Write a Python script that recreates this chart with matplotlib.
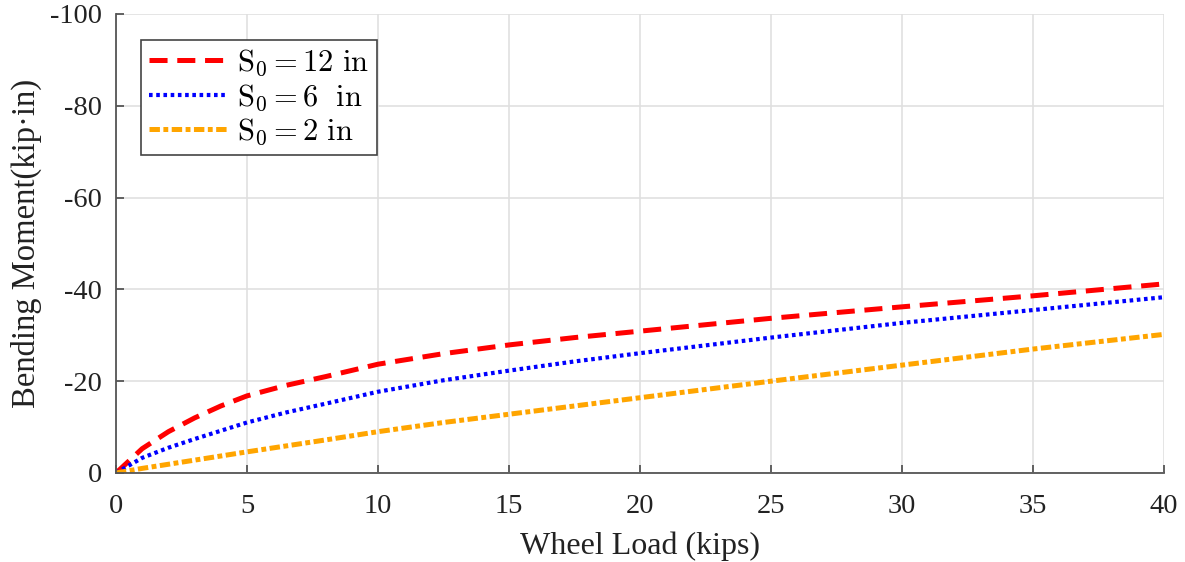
import matplotlib
matplotlib.use("Agg")
import matplotlib.pyplot as plt

plt.rcParams['font.family'] = ['Liberation Serif', 'DejaVu Serif']
plt.rcParams['mathtext.fontset'] = 'cm'
plt.rcParams['axes.unicode_minus'] = False
plt.rcParams['lines.scale_dashes'] = False

# Wheel load (kips) and bending moment (kip·in) for three S0 values
wheel_load = [0, 1, 2, 3, 4, 5, 6.5, 8, 10, 12.5, 15, 17.5, 20, 25, 30, 35, 40]
moment_s12 = [0, -5.3, -9.0, -12.0, -14.6, -16.8, -19.1, -21.0, -23.7,
              -26.0, -27.9, -29.5, -30.9, -33.7, -36.2, -38.6, -41.2]
moment_s6 = [0, -3.3, -5.5, -7.4, -9.2, -11.0, -13.2, -15.1, -17.7,
             -20.2, -22.3, -24.3, -26.1, -29.5, -32.7, -35.5, -38.3]
moment_s2 = [0, -1.0, -1.9, -2.8, -3.7, -4.6, -5.9, -7.2, -9.0,
             -11.0, -12.8, -14.6, -16.4, -20.0, -23.5, -27.0, -30.2]

labels = [r'$\mathrm{S_0}=12\ \mathrm{in}$',
          r'$\mathrm{S_0}=6\ \ \mathrm{in}$',
          r'$\mathrm{S_0}=2\ \mathrm{in}$']
x_ticks = [0, 5, 10, 15, 20, 25, 30, 35, 40]
y_ticks = [0, -20, -40, -60, -80, -100]

fig = plt.figure(figsize=(11.85, 5.62), dpi=100)
ax = fig.add_axes([0.0979, 0.1584, 0.8844, 0.8167])

ax.plot(wheel_load, moment_s12, color='#ff0000', lw=3.6,
        dashes=(13, 7), label=labels[0])
ax.plot(wheel_load, moment_s6, color='#0000ff', lw=3.0,
        dashes=(2.6, 2.6), label=labels[1])
ax.plot(wheel_load, moment_s2, color='#ffa500', lw=3.6,
        dashes=(7.5, 2.5, 3.5, 2.5), label=labels[2])

ax.set_xlim(0, 40)
ax.set_ylim(0, -100)
ax.set_xticks(x_ticks)
ax.set_yticks(y_ticks)
ax.set_xticklabels([str(v) for v in x_ticks])
ax.set_yticklabels([str(v) for v in y_ticks])

ax.grid(True, color='#e0e0e0', lw=1.2)
ax.set_axisbelow(True)
for side in ('top', 'right'):
    ax.spines[side].set_visible(False)
for side in ('left', 'bottom'):
    ax.spines[side].set_color('#555555')
    ax.spines[side].set_linewidth(1.3)
ax.tick_params(direction='in', length=6, width=1.3, color='#555555',
               labelsize=20.5, labelcolor='#222222')
ax.tick_params(axis='x', pad=15)
ax.tick_params(axis='y', pad=10)

ax.set_xlabel('Wheel Load (kips)', fontsize=23, color='#222222', labelpad=9)
ax.set_ylabel('Bending Moment(kip·in)', fontsize=23.5, color='#222222', labelpad=6)

leg = ax.legend(loc='upper left', bbox_to_anchor=(0.024, 0.943), fontsize=22,
                frameon=True, fancybox=False, framealpha=1, edgecolor='#444444',
                handlelength=2.6, handletextpad=0.3, labelspacing=0.12,
                borderpad=0.25, borderaxespad=0)
leg.get_frame().set_linewidth(1.2)

fig.savefig('out.png', dpi=100)
